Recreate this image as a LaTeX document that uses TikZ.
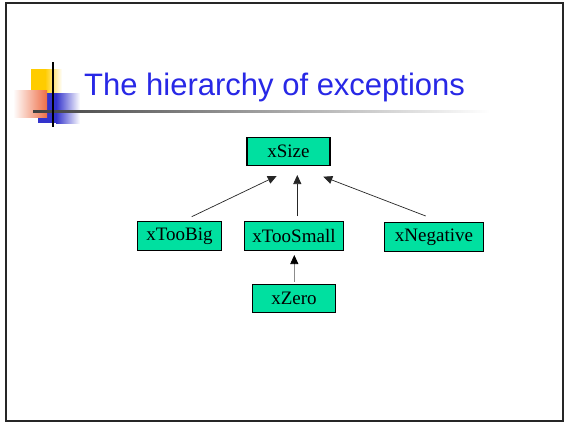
\documentclass[tikz,border=0pt]{standalone}
\usepackage{fontspec}
\setmainfont{Liberation Serif}
\newfontfamily\titlefont{Liberation Sans}
\usetikzlibrary{arrows.meta,calc}
\definecolor{boxgreen}{RGB}{0,224,160}
\definecolor{titleblue}{RGB}{40,40,230}
\definecolor{decoyellow}{RGB}{255,204,0}
\definecolor{decoblue}{RGB}{51,51,204}
\definecolor{decoorange}{RGB}{238,110,70}
\tikzset{
  cls/.style={draw=black, line width=1.1pt, fill=boxgreen, inner sep=0pt,
    minimum height=28.5pt, font=\fontsize{19}{21}\selectfont},
  inherit/.style={draw=black!85, line width=0.7pt, -{Triangle[length=9pt,width=8pt]}},
}
\begin{document}
\begin{tikzpicture}[x=1pt,y=-1pt]
\useasboundingbox (0,0) rectangle (567,424);
\fill[white] (0,0) rectangle (567,424);
% decoration
\fill[decoyellow] (31,69) rectangle (45,93);
\shade[left color=decoyellow, right color=white] (45,69) rectangle (62,93);
\fill[decoblue] (38,93) rectangle (56,123);
\shade[left color=decoblue, right color=white] (56,93) rectangle (80,123);
\shade[left color=white, right color=decoorange] (13,90) rectangle (47,117);
\shade[left color=black!75, right color=white] (33,110.3) rectangle (490,112);
\draw[black, line width=1.4pt] (53,62) -- (53,127);
% title
\node[anchor=base west, inner sep=0pt, text=titleblue, font=\titlefont\fontsize{31}{34}\selectfont] (title) at (84,95) {The hierarchy of exceptions};
% frame
\draw[black!85, line width=2pt] (6,3) rectangle (563,421);
% nodes
\node[cls, minimum width=83pt] (size) at (288.5,151.5) {xSize};
\node[cls, minimum width=84.4pt] (big) at (179.5,236) {xTooBig};
\node[cls, minimum width=98.3pt] (small) at (294,236) {xTooSmall};
\node[cls, minimum width=98.3pt] (neg) at (434,237) {xNegative};
\node[cls, minimum width=82.3pt] (zero) at (294,298.3) {xZero};
% connector endpoints
\coordinate (bigS) at (191.7,216.7);
\coordinate (bigT) at (276.7,176);
\coordinate (smallS) at (297.3,216);
\coordinate (smallT) at (297.3,175);
\coordinate (negS) at (425.7,216);
\coordinate (negT) at (323.3,176.7);
\coordinate (zeroS) at (294.3,281.7);
\coordinate (zeroM) at (294.3,263);
\coordinate (zeroT) at (294.3,255);
\draw[inherit] (bigS) -- (bigT);
\draw[inherit] (smallS) -- (smallT);
\draw[inherit] (negS) -- (negT);
\draw[draw=black!45, line width=1.3pt] (zeroS) -- (zeroM);
\draw[inherit, draw=black] (zeroM) -- (zeroT);
\end{tikzpicture}
\end{document}
